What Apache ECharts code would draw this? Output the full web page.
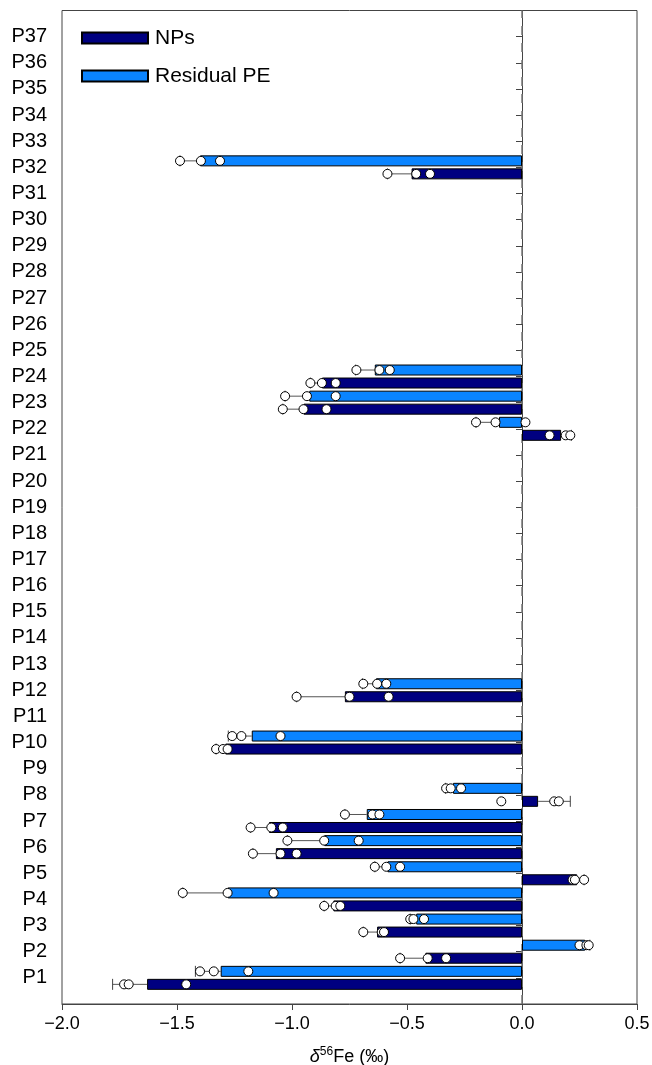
<!DOCTYPE html>
<html>
<head>
<meta charset="utf-8">
<script src="https://cdn.jsdelivr.net/npm/echarts@6/dist/echarts.min.js"></script>
<style>
  html, body { margin: 0; padding: 0; background: #fff; }
  #chart { width: 652px; height: 1065px; }
</style>
</head>
<body>
<div id="chart"></div>
<script>
// Sampling sites along the y axis
const sites = ['P1','P2','P3','P4','P5','P6','P7','P8','P9','P10','P11','P12','P13','P14','P15','P16','P17','P18','P19',
  'P20','P21','P22','P23','P24','P25','P26','P27','P28','P29','P30','P31','P32','P33','P34','P35','P36','P37'];

// Sites with measurements
const measured = ['P1','P2','P3','P4','P5','P6','P7','P8','P10','P12','P22','P23','P24','P32'];

// NPs: mean δ56Fe, end of the 1-SD whisker, and the three replicates (‰)
const npMean = [-1.63, -0.42, -0.63, -0.82, 0.24, -1.07, -1.10, 0.07, -1.29, -0.77, 0.17, -0.95, -0.87, -0.48];
const npSdEnd = [-1.78, -0.53, -0.69, -0.86, 0.27, -1.17, -1.18, 0.21, -1.33, -0.98, 0.215, -1.04, -0.92, -0.585];
const npReplicates = [
  [-1.73, -1.71, -1.46], [-0.53, -0.41, -0.33], [-0.69, -0.61, -0.60], [-0.86, -0.81, -0.79],
  [0.22, 0.23, 0.27], [-1.17, -1.05, -0.98], [-1.18, -1.09, -1.04], [-0.09, 0.14, 0.16],
  [-1.33, -1.30, -1.28], [-0.98, -0.75, -0.58], [0.12, 0.19, 0.21], [-1.04, -0.95, -0.85],
  [-0.92, -0.87, -0.81], [-0.585, -0.46, -0.40]
];

// Residual PE: mean δ56Fe, end of the 1-SD whisker, and the three replicates (‰)
const peMean = [-1.31, 0.275, -0.46, -1.28, -0.585, -0.86, -0.675, -0.30, -1.175, -0.635, -0.10, -0.925, -0.64, -1.40];
const peSdEnd = [-1.42, 0.295, -0.486, -1.475, -0.64, -1.02, -0.77, -0.333, -1.277, -0.694, -0.20, -1.03, -0.723, -1.487];
const peReplicates = [
  [-1.40, -1.34, -1.19], [0.25, 0.28, 0.29], [-0.486, -0.472, -0.426], [-1.475, -1.28, -1.08],
  [-0.64, -0.59, -0.53], [-1.02, -0.86, -0.71], [-0.77, -0.65, -0.62], [-0.33, -0.31, -0.265],
  [-1.26, -1.22, -1.05], [-0.69, -0.63, -0.59], [-0.20, -0.115, 0.015], [-1.03, -0.935, -0.81],
  [-0.72, -0.62, -0.575], [-1.487, -1.396, -1.313]
];

// x axis ticks
const xTickValues = [-2.0, -1.5, -1.0, -0.5, 0.0, 0.5];
const xTickLabels = ['\u22122.0', '\u22121.5', '\u22121.0', '\u22120.5', '0.0', '0.5'];

const FONT = "'Liberation Sans', Arial, Helvetica, sans-serif";
const NP_COLOR = '#000080';
const PE_COLOR = '#0a84ff';
const BAR_W = 11;
const BAR_GAP = 2;
const HALF_STEP = (BAR_W + BAR_GAP) / 2;

// Empty slot below P1 and above P37 so the sites sit on ticks inside the frame
const yCats = [''].concat(sites, [' ']);
const lastIdx = yCats.length - 1;

function barData(means) {
  return yCats.map(c => {
    const k = measured.indexOf(c);
    return k < 0 ? null : means[k];
  });
}

function whiskerData(means, ends, reps) {
  return measured.map((c, k) => [sites.indexOf(c) + 1, means[k], ends[k]].concat(reps[k]));
}

function makeWhiskerRenderer(offset) {
  return function (params, api) {
    const cat = api.value(0);
    const meanPt = api.coord([api.value(1), cat]);
    const endPt = api.coord([api.value(2), cat]);
    const cy = meanPt[1] + offset;
    const children = [
      { type: 'line', shape: { x1: meanPt[0], y1: cy, x2: endPt[0], y2: cy },
        style: { stroke: '#555', lineWidth: 1 } },
      { type: 'line', shape: { x1: endPt[0], y1: cy - 5.5, x2: endPt[0], y2: cy + 5.5 },
        style: { stroke: '#444', lineWidth: 1 } }
    ];
    for (let d = 3; d < 6; d++) {
      const p = api.coord([api.value(d), cat]);
      children.push({ type: 'circle', shape: { cx: p[0], cy: cy, r: 4.5 },
        style: { fill: '#fff', stroke: '#000', lineWidth: 1 } });
    }
    return { type: 'group', children: children };
  };
}

const chart = echarts.init(document.getElementById('chart'), null, { renderer: 'canvas' });

chart.setOption({
  animation: false,
  backgroundColor: '#fff',
  textStyle: { fontFamily: FONT },
  grid: {
    left: 62, right: 15, top: 10.5, bottom: 61,
    outerBoundsMode: 'none',
    show: true, borderColor: '#444', borderWidth: 1, backgroundColor: 'transparent'
  },
  legend: {
    data: ['NPs', 'Residual PE'],
    orient: 'vertical',
    left: 76, top: 22,
    icon: 'rect',
    itemWidth: 66, itemHeight: 11,
    itemGap: 16,
    textStyle: { fontFamily: FONT, fontSize: 21, color: '#000', lineHeight: 22, padding: [0, 0, 0, 2] }
  },
  xAxis: {
    type: 'value',
    min: -2, max: 0.5, interval: 0.5,
    axisLine: { show: true, lineStyle: { color: '#444', width: 1 } },
    axisTick: { show: true, inside: false, length: 6, lineStyle: { color: '#444' } },
    splitLine: { show: false },
    axisLabel: {
      margin: 11, fontSize: 18, color: '#000', fontFamily: FONT,
      formatter: v => {
        const i = xTickValues.findIndex(t => Math.abs(t - v) < 1e-9);
        return i < 0 ? '' : xTickLabels[i];
      }
    },
    name: '{d|\u03b4}{s|56}{n|Fe (\u2030)}',
    nameLocation: 'middle',
    nameGap: 42,
    nameTextStyle: {
      rich: {
        d: { fontFamily: FONT, fontSize: 18, fontStyle: 'italic', color: '#000' },
        s: { fontFamily: FONT, fontSize: 12, color: '#000', padding: [0, 0, 10, 0] },
        n: { fontFamily: FONT, fontSize: 18, color: '#000' }
      }
    }
  },
  yAxis: {
    type: 'category',
    data: yCats,
    boundaryGap: false,
    axisLine: { show: true, lineStyle: { color: '#444', width: 1 } },
    axisTick: {
      show: true, inside: false, length: 6, lineStyle: { color: '#444' },
      interval: (i) => i > 0 && i < lastIdx
    },
    axisLabel: {
      margin: 15, fontSize: 20, color: '#000', fontFamily: FONT,
      interval: (i) => i > 0 && i < lastIdx
    },
    splitLine: { show: false }
  },
  series: [
    {
      name: 'Residual PE',
      type: 'bar',
      data: barData(peMean),
      barWidth: BAR_W,
      barGap: (BAR_GAP / BAR_W * 100) + '%',
      itemStyle: { color: PE_COLOR, borderColor: '#000', borderWidth: 1 },
      z: 2
    },
    {
      name: 'NPs',
      type: 'bar',
      data: barData(npMean),
      barWidth: BAR_W,
      barGap: (BAR_GAP / BAR_W * 100) + '%',
      itemStyle: { color: NP_COLOR, borderColor: '#000', borderWidth: 1 },
      z: 2,
      markLine: {
        silent: true,
        symbol: 'none',
        label: { show: false },
        lineStyle: { color: '#777', type: [9, 8], width: 1.5 },
        data: [{ xAxis: 0 }],
        z: 1
      }
    },
    {
      name: 'Residual PE replicates',
      type: 'custom',
      renderItem: makeWhiskerRenderer(-HALF_STEP),
      data: whiskerData(peMean, peSdEnd, peReplicates),
      encode: { y: 0, x: [1, 2, 3, 4, 5] },
      z: 4
    },
    {
      name: 'NPs replicates',
      type: 'custom',
      renderItem: makeWhiskerRenderer(HALF_STEP),
      data: whiskerData(npMean, npSdEnd, npReplicates),
      encode: { y: 0, x: [1, 2, 3, 4, 5] },
      z: 4
    }
  ]
});
</script>
</body>
</html>
